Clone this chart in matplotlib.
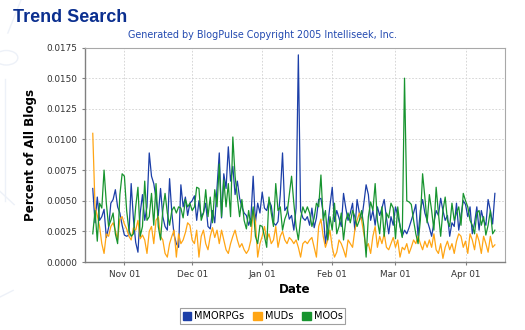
import matplotlib
matplotlib.use('Agg')
import matplotlib.pyplot as plt
import matplotlib.dates as mdates
from matplotlib.lines import Line2D
from matplotlib.patches import Patch, Circle
import pandas as pd

# daily values, in units of 0.0001 (percent of all blogs), Oct 18 2004 .. Apr 14 2005
start_date = '2004-10-18'

mmorpgs = ([60, 32, 53, 34, 37, 43, 20, 28, 48, 51, 59, 45, 40, 30]
           + [22, 21, 22, 64, 35, 16, 8, 40, 55, 34, 45, 89, 70, 64, 52, 38, 60, 37, 29, 26,
              68, 40, 22, 15, 12, 63, 45, 53, 38, 48]
           + [50, 54, 34, 50, 37, 40, 48, 29, 27, 42, 32, 60, 89, 36, 72, 60, 94, 66, 78, 55,
              66, 52, 45, 40, 38, 30, 36, 70, 32, 48, 40]
           + [57, 44, 42, 50, 46, 32, 30, 33, 55, 89, 42, 45, 35, 38, 26, 44, 169, 42, 36, 34,
              37, 30, 44, 28, 36, 51, 52, 40, 15, 30, 46]
           + [61, 33, 42, 36, 29, 56, 44, 34, 40, 48, 26, 51, 40, 34, 48, 63, 55, 34, 42, 30,
              45, 38, 44, 51, 36, 23, 37, 30]
           + [45, 38, 30, 21, 26, 23, 28, 34, 40, 47, 21, 42, 51, 40, 34, 28, 21, 32, 42, 38,
              52, 42, 34, 38, 21, 32, 29, 48, 26, 38, 50]
           + [47, 37, 45, 23, 32, 45, 26, 42, 34, 30, 51, 42, 31, 56])

muds = ([105, 45, 38, 29, 15, 7, 23, 21, 29, 32, 26, 18, 35, 37]
        + [31, 27, 21, 18, 28, 26, 34, 19, 22, 18, 7, 25, 29, 15, 34, 37, 21, 18, 7, 4,
           15, 21, 26, 4, 23, 15, 18, 24, 32, 30]
        + [18, 15, 26, 4, 21, 26, 15, 10, 21, 28, 20, 26, 15, 26, 18, 10, 7, 15, 21, 26,
           18, 12, 15, 10, 7, 10, 18, 43, 33, 4, 15]
        + [21, 29, 18, 23, 15, 18, 29, 12, 21, 25, 18, 15, 20, 18, 15, 18, 12, 4, 15, 17,
           15, 18, 20, 12, 4, 29, 35, 21, 12, 18, 26]
        + [12, 4, 8, 18, 15, 10, 4, 18, 15, 12, 26, 34, 40, 34, 23, 12, 15, 7, 21, 29,
           12, 21, 15, 23, 12, 10, 15, 20]
        + [12, 18, 4, 12, 10, 15, 7, 12, 18, 15, 21, 15, 10, 17, 12, 18, 12, 23, 10, 7,
           15, 3, 12, 17, 10, 15, 7, 17, 23, 21, 12]
        + [17, 7, 23, 18, 10, 23, 17, 7, 21, 15, 8, 21, 12, 14])

moos = ([23, 42, 17, 48, 44, 75, 48, 29, 34, 40, 23, 15, 55, 72]
        + [70, 42, 26, 21, 23, 45, 61, 21, 29, 66, 34, 37, 56, 30, 64, 29, 18, 42, 56, 40,
           30, 42, 45, 40, 45, 44, 36, 51, 45, 48]
        + [42, 45, 61, 60, 34, 40, 59, 37, 53, 32, 59, 45, 80, 37, 67, 45, 64, 37, 102, 70,
           53, 37, 51, 34, 27, 42, 29, 45, 21, 15, 30]
        + [29, 21, 12, 53, 40, 29, 64, 42, 45, 26, 35, 40, 55, 70, 48, 29, 18, 35, 45, 40,
           45, 40, 29, 36, 48, 45, 71, 34, 42, 18, 37]
        + [26, 48, 23, 29, 40, 18, 34, 40, 32, 42, 37, 29, 34, 42, 29, 4, 37, 49, 42, 64,
           34, 23, 45, 21, 40, 36, 48, 44]
        + [19, 45, 29, 20, 150, 50, 49, 47, 34, 23, 15, 34, 72, 53, 32, 55, 42, 26, 61, 40,
           21, 42, 53, 34, 29, 48, 34, 40, 45, 30, 56]
        + [50, 45, 34, 30, 23, 40, 42, 30, 37, 22, 30, 42, 23, 26])

series_names = ['MMORPGs', 'MUDs', 'MOOs']
colors = ['#1c3fa8', '#ffa514', '#17942f']

dates = pd.date_range(start_date, periods=len(mmorpgs), freq='D')
unit = 0.0001

fig = plt.figure(figsize=(5.25, 3.3), dpi=100)
ax = fig.add_axes([0.162, 0.206, 0.800, 0.650])

# faint watermark strokes in the background
wm = '#edf1f8'
fig.add_artist(Circle((0.012, 0.825), 0.022, transform=fig.transFigure, fill=False, ec=wm, lw=1.0))
fig.add_artist(Line2D([0.009, 0.009], [0.39, 0.76], transform=fig.transFigure, color=wm, lw=1.0))
fig.add_artist(Line2D([0.0, 0.027], [0.42, 0.38], transform=fig.transFigure, color=wm, lw=1.0))
fig.add_artist(Line2D([0.015, 0.04], [0.90, 1.0], transform=fig.transFigure, color=wm, lw=1.0))
fig.add_artist(Line2D([0.0, 0.025], [0.10, 0.12], transform=fig.transFigure, color=wm, lw=1.0))

for vals, name, c in zip([mmorpgs, muds, moos], series_names, colors):
    ax.plot(dates, [v * unit for v in vals], color=c, lw=0.9, label=name)

ax.set_ylim(0, 0.0175)
ax.set_yticks([i * 0.0025 for i in range(8)])
ax.yaxis.set_major_formatter(plt.FormatStrFormatter('%.4f'))
ax.set_xlim(pd.Timestamp('2004-10-14 14:00'), pd.Timestamp('2005-04-18 12:00'))
ax.xaxis.set_major_locator(mdates.MonthLocator())
ax.xaxis.set_major_formatter(mdates.DateFormatter('%b %d'))

ax.grid(True, color='#d0d0d0', ls=(0, (2, 2)), lw=0.6)
ax.set_axisbelow(True)
for s in ['top', 'right']:
    ax.spines[s].set_color('#a8a8a8')
    ax.spines[s].set_linewidth(0.8)
for s in ['left', 'bottom']:
    ax.spines[s].set_color('#808080')
    ax.spines[s].set_linewidth(1.0)
ax.tick_params(labelsize=6.4, colors='#808080', labelcolor='#333333', length=2.5, width=0.8, pad=3)

ax.set_xlabel('Date', fontsize=8.6, fontweight='bold', labelpad=3)
ax.set_ylabel('Percent of All Blogs', fontsize=8.6, fontweight='bold', labelpad=7)

fig.text(0.025, 0.948, 'Trend Search', family='Liberation Sans', fontsize=13,
         fontweight='bold', color='#0b2f8f', va='center', ha='left')
fig.text(0.5, 0.893, 'Generated by BlogPulse Copyright 2005 Intelliseek, Inc.',
         fontsize=6.9, color='#2249b0', ha='center', va='center')

handles = [Patch(facecolor=c, edgecolor=c) for c in colors]
leg = fig.legend(handles, series_names, loc='center', bbox_to_anchor=(0.5, 0.042),
                 ncol=3, fontsize=7, frameon=True, fancybox=False, handlelength=0.9,
                 handleheight=0.9, handletextpad=0.3, columnspacing=0.9,
                 borderpad=0.3, borderaxespad=0)
leg.get_frame().set_edgecolor('#888888')
leg.get_frame().set_linewidth(0.8)

fig.savefig('out.png', dpi=100)
